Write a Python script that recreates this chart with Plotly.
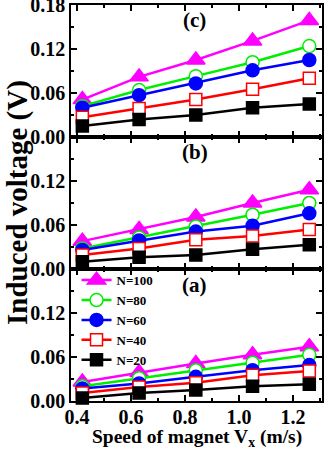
import plotly.graph_objects as go
from plotly.subplots import make_subplots

speed = [0.42, 0.63, 0.84, 1.05, 1.26]
series_names = ["N=100", "N=80", "N=60", "N=40", "N=20"]

# panel (c)
c_n100 = [0.051, 0.082, 0.105, 0.131, 0.159]
c_n80 = [0.042, 0.064, 0.083, 0.102, 0.124]
c_n60 = [0.040, 0.057, 0.073, 0.091, 0.105]
c_n40 = [0.027, 0.039, 0.051, 0.065, 0.080]
c_n20 = [0.015, 0.024, 0.030, 0.040, 0.045]
# panel (b)
b_n100 = [0.038, 0.054, 0.071, 0.090, 0.108]
b_n80 = [0.028, 0.043, 0.058, 0.074, 0.090]
b_n60 = [0.026, 0.039, 0.051, 0.059, 0.076]
b_n40 = [0.019, 0.028, 0.040, 0.045, 0.054]
b_n20 = [0.010, 0.016, 0.019, 0.027, 0.033]
# panel (a)
a_n100 = [0.026, 0.039, 0.051, 0.063, 0.074]
a_n80 = [0.020, 0.031, 0.042, 0.052, 0.063]
a_n60 = [0.017, 0.024, 0.033, 0.042, 0.049]
a_n40 = [0.011, 0.019, 0.025, 0.035, 0.041]
a_n20 = [0.004, 0.011, 0.015, 0.020, 0.023]

panel_labels = ["(c)", "(b)", "(a)"]
x_tickvals = [0.4, 0.6, 0.8, 1.0, 1.2]
x_ticktext = ["0.4", "0.6", "0.8", "1.0", "1.2"]

panels = [
    [c_n100, c_n80, c_n60, c_n40, c_n20],
    [b_n100, b_n80, b_n60, b_n40, b_n20],
    [a_n100, a_n80, a_n60, a_n40, a_n20],
]

colors = ["#ff00ff", "#00ee00", "#0000ff", "#ff0000", "#000000"]
symbols = ["triangle-up", "circle", "circle", "square", "square"]
filled = [True, False, True, False, True]
msizes = [16, 13, 13, 12, 12]

FONT = "Liberation Serif, Times New Roman, serif"

fig = make_subplots(rows=3, cols=1, shared_xaxes=True, vertical_spacing=0)

for r, data in enumerate(panels, start=1):
    for i, ys in enumerate(data):
        fig.add_trace(go.Scatter(
            x=speed, y=ys, mode="lines+markers", name=series_names[i],
            line=dict(color=colors[i], width=2.5),
            marker=dict(symbol=symbols[i], size=msizes[i],
                        color=colors[i] if filled[i] else "white",
                        line=dict(color=colors[i], width=1.5)),
            cliponaxis=False,
            showlegend=(r == 3), legendrank=i,
        ), row=r, col=1)

for r in range(1, 4):
    fig.update_yaxes(
        range=[0, 0.18], tickvals=[0, 0.06, 0.12, 0.18],
        ticktext=["0.00", "0.06", "0.12", "0.18" if r == 1 else ""],
        ticklabeloverflow="allow", automargin=False,
        ticks="inside", ticklen=6, tickwidth=1.5, tickcolor="black",
        minor=dict(tickvals=[0.03, 0.09, 0.15], ticks="inside", ticklen=3,
                   tickwidth=1.5, tickcolor="black"),
        showline=True, linecolor="black", linewidth=1.5, mirror="ticks",
        showgrid=False, zeroline=False,
        tickfont=dict(family=FONT, size=20, color="black", weight="bold"),
        row=r, col=1)
    fig.update_xaxes(
        range=[0.378, 1.307], tickvals=x_tickvals, ticktext=x_ticktext,
        showticklabels=(r == 3), automargin=False, ticklabelstandoff=-3,
        ticks="inside", ticklen=6, tickwidth=1.5, tickcolor="black",
        minor=dict(tickvals=[0.5, 0.7, 0.9, 1.1, 1.3], ticks="inside",
                   ticklen=3, tickwidth=1.5, tickcolor="black"),
        showline=True, linecolor="black", linewidth=1.5, mirror="ticks",
        showgrid=False, zeroline=False,
        tickfont=dict(family=FONT, size=20, color="black", weight="bold"),
        row=r, col=1)

annos = []
for k, yy in enumerate([0.962, 0.629, 0.293]):
    annos.append(dict(text=panel_labels[k], xref="paper", yref="paper",
                      x=0.494, y=yy, showarrow=False,
                      xanchor="center", yanchor="middle",
                      font=dict(family=FONT, size=21, color="black", weight="bold")))
annos.append(dict(text="Induced voltage (V)", xref="paper", yref="paper",
                  x=-0.215, y=0.5, textangle=-90, showarrow=False,
                  xanchor="center", yanchor="middle",
                  font=dict(family=FONT, size=29, color="black", weight="bold")))
annos.append(dict(text="Speed of magnet V<sub>x</sub> (m/s)", xref="paper",
                  yref="paper", x=0.502, y=-0.094, showarrow=False,
                  xanchor="center", yanchor="middle",
                  font=dict(family=FONT, size=19.5, color="black", weight="bold")))

fig.update_layout(
    width=327, height=449,
    margin=dict(l=71, r=5, t=5, b=48),
    paper_bgcolor="white", plot_bgcolor="white",
    annotations=annos,
    showlegend=True,
    legend=dict(x=0.022, y=0.343, xanchor="left", yanchor="top",
                bgcolor="rgba(0,0,0,0)", borderwidth=0,
                tracegroupgap=0, itemwidth=30,
                font=dict(family=FONT, size=13, color="black", weight="bold")),
)

fig.write_html("out.html")
